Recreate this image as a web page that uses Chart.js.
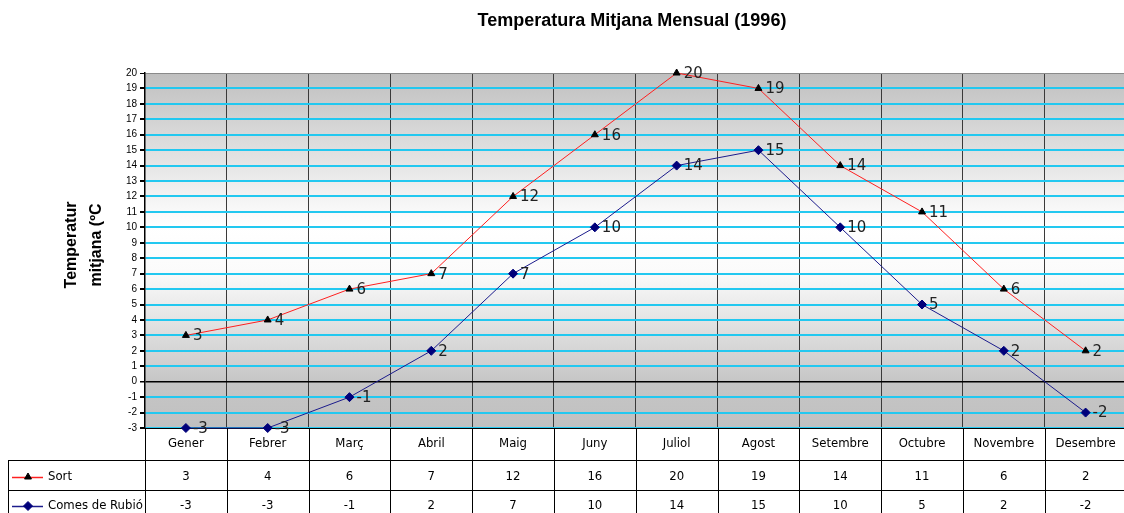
<!DOCTYPE html>
<html>
<head>
<meta charset="utf-8">
<script src="https://cdn.jsdelivr.net/npm/chart.js@4/dist/chart.umd.min.js"></script>
<style>
  body { margin: 0; background: #fff; overflow: hidden; }
  #wrap { position: relative; width: 1132px; height: 513px; }
</style>
</head>
<body>
<div id="wrap"><canvas id="tempChart"></canvas></div>
<script>
// Chart values
const months = ['Gener', 'Febrer', 'Març', 'Abril', 'Maig', 'Juny', 'Juliol', 'Agost', 'Setembre', 'Octubre', 'Novembre', 'Desembre'];
const sortTemps = [3, 4, 6, 7, 12, 16, 20, 19, 14, 11, 6, 2];
const comesTemps = [-3, -3, -1, 2, 7, 10, 14, 15, 10, 5, 2, -2];
const seriesNames = ['Sort', 'Comes de Rubió'];
const chartTitle = 'Temperatura Mitjana Mensual (1996)';
const yTitleLines = ['Temperatur', 'mitjana (ºC'];

const tableFont = "13px 'Comic Sans MS', 'DejaVu Sans Condensed', 'DejaVu Sans', sans-serif";

// Gray - white - gray fill behind the plot
const backgroundPlugin = {
  id: 'plotBackground',
  beforeDraw(chart) {
    const { ctx, chartArea: a } = chart;
    const g = ctx.createLinearGradient(0, a.top, 0, a.bottom);
    g.addColorStop(0, '#bfbfbf');
    g.addColorStop(0.43, '#ffffff');
    g.addColorStop(0.56, '#fbfbfb');
    g.addColorStop(0.87, '#c6c6c6');
    g.addColorStop(1, '#c0c0c0');
    ctx.save();
    ctx.fillStyle = g;
    ctx.fillRect(a.left, a.top, a.right - a.left, a.bottom - a.top);
    ctx.restore();
  }
};

// Value labels right of each point
const valueLabels = {
  id: 'valueLabels',
  afterDatasetsDraw(chart) {
    const ctx = chart.ctx;
    ctx.save();
    ctx.font = "15px 'DejaVu Sans', sans-serif";
    ctx.fillStyle = '#222';
    ctx.textAlign = 'left';
    ctx.textBaseline = 'middle';
    chart.data.datasets.forEach((ds, i) => {
      chart.getDatasetMeta(i).data.forEach((pt, j) => {
        ctx.fillText(String(ds.data[j]), pt.x + 7, pt.y + 1);
      });
    });
    ctx.restore();
  }
};

// Title and rotated y title
const titles = {
  id: 'titles',
  afterDraw(chart) {
    const ctx = chart.ctx;
    ctx.save();
    ctx.fillStyle = '#000';
    ctx.textAlign = 'center';
    ctx.textBaseline = 'middle';
    ctx.font = "bold 18px 'Liberation Sans', Arial, sans-serif";
    ctx.fillText(chartTitle, 632, 21);
    ctx.font = "bold 16px 'Liberation Sans', Arial, sans-serif";
    const xs = [72, 97];
    yTitleLines.forEach((t, i) => {
      ctx.save();
      ctx.translate(xs[i], 245);
      ctx.rotate(-Math.PI / 2);
      ctx.fillText(t, 0, 0);
      ctx.restore();
    });
    ctx.restore();
  }
};

// Data table under the plot
const dataTable = {
  id: 'dataTable',
  afterDraw(chart) {
    const { ctx, chartArea: a, scales } = chart;
    const x = scales.x;
    const half = (x.getPixelForValue(1) - x.getPixelForValue(0)) / 2;
    const rowTop = [a.bottom, a.bottom + 32, a.bottom + 62];
    const rowMid = [rowTop[1] + 17, rowTop[2] + 16];
    const W = chart.width;
    ctx.save();
    ctx.strokeStyle = '#000';
    ctx.lineWidth = 1;
    ctx.beginPath();
    ctx.moveTo(8, rowTop[1] + 0.5); ctx.lineTo(W, rowTop[1] + 0.5);
    ctx.moveTo(8, rowTop[2] + 0.5); ctx.lineTo(W, rowTop[2] + 0.5);
    ctx.moveTo(8.5, rowTop[1]); ctx.lineTo(8.5, chart.height);
    for (let i = 0; i <= months.length; i++) {
      const bx = Math.round(x.getPixelForValue(i) - half) + 0.5;
      ctx.moveTo(bx, a.bottom); ctx.lineTo(bx, chart.height);
    }
    ctx.stroke();

    ctx.font = tableFont;
    ctx.fillStyle = '#000';
    ctx.textBaseline = 'middle';
    ctx.textAlign = 'center';
    chart.data.datasets.forEach((ds, r) => {
      ds.data.forEach((v, j) => {
        ctx.fillText(String(v), x.getPixelForValue(j), rowMid[r]);
      });
      // legend key
      ctx.strokeStyle = ds.borderColor;
      ctx.lineWidth = 1.5;
      ctx.beginPath();
      ctx.moveTo(12, rowMid[r] + 0.5); ctx.lineTo(43, rowMid[r] + 0.5);
      ctx.stroke();
      ctx.lineWidth = 1;
      ctx.fillStyle = ds.pointBackgroundColor;
      ctx.strokeStyle = ds.pointBorderColor;
      Chart.helpers.drawPoint(ctx, {
        pointStyle: ds.pointStyle, radius: ds.pointRadius, rotation: 0, borderWidth: 1
      }, 28, rowMid[r]);
      ctx.fillStyle = '#000';
      ctx.textAlign = 'left';
      ctx.fillText(ds.label, 48, rowMid[r]);
      ctx.textAlign = 'center';
    });
    ctx.restore();
  }
};

const ctx = document.getElementById('tempChart');

window.tempChart = new Chart(ctx, {
  type: 'line',
  data: {
    labels: months,
    datasets: [{
      label: seriesNames[0],
      data: sortTemps,
      borderColor: '#ff2020',
      borderWidth: 1,
      pointStyle: 'triangle',
      pointRadius: 4,
      pointBackgroundColor: '#000',
      pointBorderColor: '#000',
      tension: 0,
      clip: false
    }, {
      label: seriesNames[1],
      data: comesTemps,
      borderColor: '#1c1c8c',
      borderWidth: 1,
      pointStyle: 'rectRot',
      pointRadius: 4.5,
      pointBackgroundColor: '#00007a',
      pointBorderColor: '#00007a',
      tension: 0,
      clip: false
    }]
  },
  options: {
    responsive: true,
    maintainAspectRatio: false,
    animation: false,
    layout: { padding: { left: 0, right: 0, top: 73, bottom: 0 } },
    plugins: {
      legend: { display: false },
      tooltip: { enabled: false },
      title: { display: false }
    },
    scales: {
      x: {
        offset: true,
        afterFit(scale) { scale.height = 85; },
        grid: {
          offset: true,
          color: '#3a3a3a',
          lineWidth: 1,
          drawTicks: false
        },
        border: { color: '#000', width: 1 },
        ticks: {
          color: '#000',
          padding: 8,
          maxRotation: 0,
          autoSkip: false,
          font: { family: "'Comic Sans MS', 'DejaVu Sans Condensed', 'DejaVu Sans', sans-serif", size: 13 }
        }
      },
      y: {
        min: -3,
        max: 20,
        afterFit(scale) { scale.width = 145; },
        grid: {
          color: c => c.tick.value === 0 ? '#000' : (c.tick.value === 20 ? '#8a8a8a' : '#22c8f0'),
          lineWidth: c => c.tick.value === 0 ? 1.5 : (c.tick.value === 20 ? 1 : 2),
          tickColor: '#000',
          tickLength: 5
        },
        border: { color: '#000', width: 1.5 },
        ticks: {
          stepSize: 1,
          autoSkip: false,
          color: '#000',
          padding: 3,
          font: { family: "'Liberation Sans', Arial, sans-serif", size: 10 }
        }
      }
    }
  },
  plugins: [backgroundPlugin, valueLabels, titles, dataTable]
});
</script>
</body>
</html>
